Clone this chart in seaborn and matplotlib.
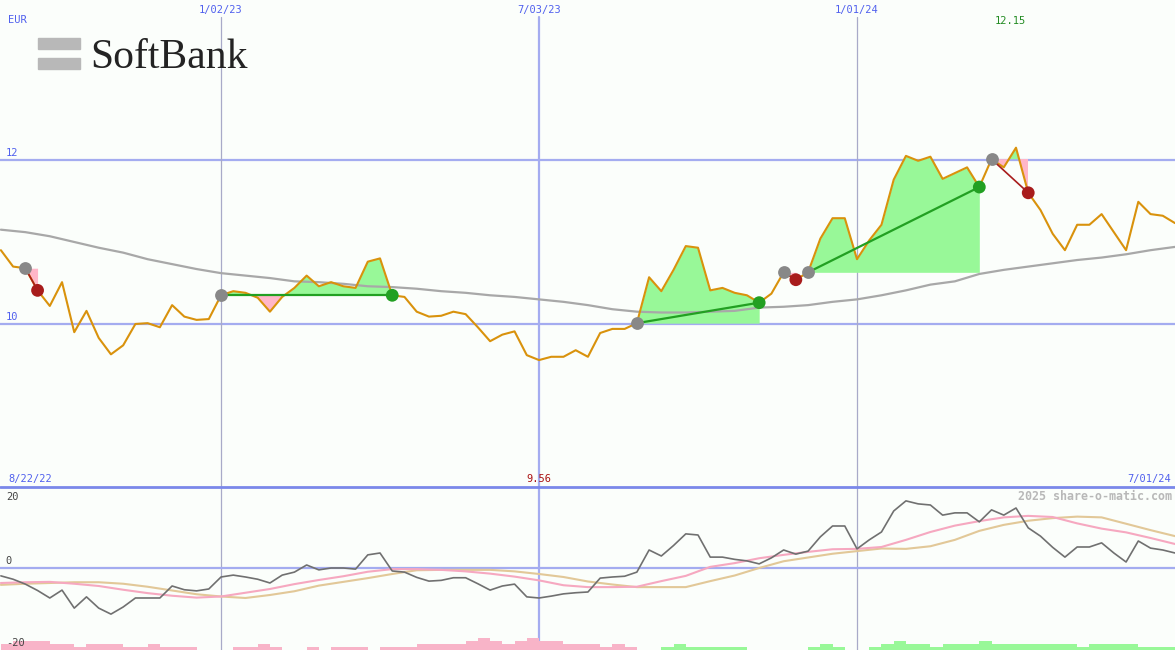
import numpy as np
import pandas as pd
import matplotlib.pyplot as plt
import matplotlib.patches as mpatches
from matplotlib.lines import Line2D
import seaborn as sns

sns.set_style("white")
plt.rcParams['font.family'] = ['DejaVu Sans Mono', 'DejaVu Sans']

# ---------------------------------------------------------
# data (weekly closes in EUR)
# ---------------------------------------------------------
weeks = pd.date_range("2022-08-29", "2024-07-01", freq="W-MON")

price = [10.90, 10.70, 10.68, 10.41, 10.22, 10.51, 9.90, 10.16, 9.83, 9.63,
         9.74, 10.00, 10.01, 9.96, 10.23, 10.09, 10.05, 10.06, 10.35, 10.40,
         10.38, 10.32, 10.15, 10.33, 10.44, 10.59, 10.46, 10.51, 10.46, 10.44,
         10.76, 10.80, 10.35, 10.33, 10.15, 10.09, 10.10, 10.15, 10.12, 9.96,
         9.79, 9.87, 9.91, 9.62, 9.56, 9.60, 9.60, 9.68, 9.60, 9.89,
         9.94, 9.94, 10.01, 10.57, 10.40, 10.66, 10.95, 10.93, 10.41, 10.44,
         10.38, 10.35, 10.26, 10.37, 10.63, 10.54, 10.63, 11.04, 11.29, 11.29,
         10.79, 11.02, 11.21, 11.76, 12.05, 11.99, 12.04, 11.77, 11.84, 11.91,
         11.67, 12.01, 11.91, 12.15, 11.60, 11.39, 11.10, 10.90, 11.21, 11.21,
         11.34, 11.12, 10.90, 11.49, 11.34, 11.32, 11.23]

# long moving average, every second week
ma_long = [11.15, 11.12, 11.07, 11.00, 10.93, 10.87, 10.79, 10.73, 10.67, 10.62,
           10.59, 10.56, 10.52, 10.51, 10.49, 10.46, 10.45, 10.43, 10.40, 10.38,
           10.35, 10.33, 10.30, 10.27, 10.23, 10.18, 10.15, 10.14, 10.14, 10.15,
           10.16, 10.20, 10.21, 10.23, 10.27, 10.30, 10.35, 10.41, 10.48, 10.52,
           10.61, 10.66, 10.70, 10.74, 10.78, 10.81, 10.85, 10.90, 10.94]

# trades: entry week index / exit week index
entry_idx = [2, 18, 52, 64, 66, 81]
exit_idx = [3, 32, 62, 65, 80, 84]

# lower panel: momentum (weekly) and two smoothed lines (every second week)
momentum = [-2.1, -3.0, -4.3, -6.0, -8.0, -5.9, -10.7, -7.7, -10.7, -12.3,
            -10.4, -8.0, -8.0, -8.0, -4.8, -5.8, -6.1, -5.6, -2.4, -1.9,
            -2.4, -3.0, -4.0, -1.9, -1.1, 0.8, -0.5, 0.0, 0.0, -0.3,
            3.5, 4.0, -0.8, -1.1, -2.5, -3.5, -3.3, -2.6, -2.6, -4.2,
            -5.9, -4.8, -4.3, -7.7, -8.0, -7.5, -6.9, -6.6, -6.4, -2.7,
            -2.4, -2.2, -1.1, 4.8, 3.2, 6.0, 9.1, 8.8, 2.9, 2.9,
            2.3, 1.9, 1.1, 2.7, 4.8, 3.7, 4.5, 8.3, 11.2, 11.2,
            5.1, 7.5, 9.6, 15.2, 17.9, 17.1, 16.8, 14.1, 14.7, 14.7,
            12.3, 15.5, 14.1, 16.0, 10.7, 8.5, 5.5, 2.9, 5.6, 5.6,
            6.7, 4.0, 1.6, 7.2, 5.3, 4.8, 4.0]

signal_fast = [-4.0, -3.8, -3.7, -4.2, -4.8, -5.8, -6.7, -7.4, -7.9, -7.6,
               -6.6, -5.6, -4.3, -3.2, -2.2, -1.0, -0.3, -0.3, -0.5, -0.9,
               -1.5, -2.3, -3.3, -4.6, -5.1, -5.1, -5.0, -3.5, -2.1, 0.3,
               1.3, 2.6, 3.5, 4.3, 5.0, 5.1, 5.6, 7.5, 9.6, 11.3,
               12.5, 13.5, 13.9, 13.6, 11.9, 10.5, 9.5, 8.0, 6.4]

signal_slow = [-4.5, -4.2, -4.0, -3.8, -3.8, -4.2, -5.0, -6.0, -7.0, -7.6,
               -8.0, -7.2, -6.2, -4.7, -3.7, -2.7, -1.6, -0.6, -0.5, -0.5,
               -0.5, -0.9, -1.6, -2.4, -3.6, -4.4, -5.1, -5.1, -5.1, -3.5,
               -2.0, 0.0, 1.8, 2.8, 3.8, 4.5, 5.2, 5.1, 5.8, 7.5,
               9.9, 11.5, 12.6, 13.3, 13.7, 13.5, 11.8, 10.1, 8.5]

# strength bars at the bottom (negative = pink, positive = green)
bar_levels = [-2, -3, -3, -3, -2, -2, -1, -2, -2, -2, -1, -1, -2, -1, -1, -1,
              0, 0, 0, -1, -1, -2, -1, 0, 0, -1, 0, -1, -1, -1, 0, -1,
              -1, -1, -2, -2, -2, -2, -3, -4, -3, -2, -3, -4, -3, -3, -2, -2,
              -2, -1, -2, -1, 0, 0, 1, 2, 1, 1, 1, 1, 1, 0, 0, 0,
              0, 0, 1, 2, 1, 0, 0, 1, 2, 3, 2, 2, 1, 2, 2, 2,
              3, 2, 2, 2, 2, 2, 2, 2, 1, 2, 2, 2, 2, 1, 1, 1]

half_year_lines = ["2023-01-02", "2023-07-03", "2024-01-01"]
half_year_labels = ["1/02/23", "7/03/23", "1/01/24"]

# ---------------------------------------------------------
# colours
# ---------------------------------------------------------
bg = '#fbfefb'
grid_blue = '#a4acf0'
thin_grid = '#a8aac8'
label_blue = '#5060ee'
price_col = '#d9920c'
ma_col = '#a8a8a8'
fill_green = '#98f898'
fill_pink = '#ffb6c8'
win_col = '#22a022'
loss_col = '#a81c1c'

price = np.array(price)
ma_weeks = weeks[::2]

fig = plt.figure(figsize=(11.75, 6.5), dpi=100, facecolor=bg)
ax = fig.add_axes([0, 163 / 650, 1, 487 / 650])
ax2 = fig.add_axes([0, 0, 1, 163 / 650])
for a in (ax, ax2):
    a.set_axis_off()
    a.set_xlim(weeks[0] - pd.Timedelta(hours=12), weeks[-1])

ax.set_ylim(8.012, 13.951)
ax2.set_ylim(-21.87, 21.6)

# ---------------------------------------------------------
# main panel
# ---------------------------------------------------------
for lvl in (10, 12):
    ax.axhline(lvl, color=grid_blue, lw=1.6, zorder=0.5)
    ax.annotate(str(lvl), xy=(0.005, lvl), xycoords=('axes fraction', 'data'),
                xytext=(0, 1.5), textcoords='offset points', va='bottom',
                fontsize=7.5, color=label_blue)

for d, lab in zip(half_year_lines, half_year_labels):
    thick = d.endswith("07-03")
    col = grid_blue if thick else thin_grid
    ax.axvline(pd.Timestamp(d), ymax=0.965, color=col, lw=1.6 if thick else 0.9, zorder=0.5)
    ax2.axvline(pd.Timestamp(d), color=col, lw=1.6 if thick else 0.9, zorder=0.5)
    ax.annotate(lab, xy=(pd.Timestamp(d), 0.98), xycoords=('data', 'axes fraction'),
                ha='center', va='center', fontsize=7.5, color=label_blue)

# trade areas
for a, b in zip(entry_idx, exit_idx):
    seg_x = weeks[a:b + 1]
    seg_y = price[a:b + 1]
    p0 = price[a]
    ax.fill_between(seg_x, p0, seg_y, where=seg_y >= p0, interpolate=True,
                    color=fill_green, lw=0, zorder=1)
    ax.fill_between(seg_x, p0, seg_y, where=seg_y <= p0, interpolate=True,
                    color=fill_pink, lw=0, zorder=1)

sns.lineplot(x=ma_weeks, y=ma_long, ax=ax, color=ma_col, linewidth=1.6, zorder=2)
sns.lineplot(x=weeks, y=price, ax=ax, color=price_col, linewidth=1.5, zorder=3)

for a, b in zip(entry_idx, exit_idx):
    win = price[b] >= price[a]
    ax.plot([weeks[a], weeks[b]], [price[a], price[b]],
            color=win_col if win else loss_col, lw=1.6 if win else 1.2, zorder=4)

exit_cols = [win_col if price[b] >= price[a] else loss_col
             for a, b in zip(entry_idx, exit_idx)]
sns.scatterplot(x=weeks[entry_idx], y=price[entry_idx], ax=ax, color='#888888',
                s=85, linewidth=0, zorder=5)
ax.scatter(weeks[exit_idx], price[exit_idx], c=exit_cols, s=85, linewidth=0, zorder=6)

# labels
imax = int(np.argmax(price))
imin = int(np.argmin(price))
ax.annotate(f"{price[imax]:.2f}", xy=(weeks[imax], 0.957), xycoords=('data', 'axes fraction'),
            xytext=(-4, 0), textcoords='offset points',
            ha='center', va='center', fontsize=7.5, color='#228b22')
ax.annotate(f"{price[imin]:.2f}", xy=(weeks[imin], 0.0164), xycoords=('data', 'axes fraction'),
            ha='center', va='center', fontsize=7.5, color='#aa1111')
fig.text(8 / 1175, 1 - 20 / 650, "EUR", ha='left', va='center', fontsize=7.5, color=label_blue)
fig.text(8 / 1175, 1 - 479 / 650, "8/22/22", ha='left', va='center', fontsize=7.5, color=label_blue)
fig.text(1171 / 1175, 1 - 479 / 650, "7/01/24", ha='right', va='center', fontsize=7.5, color=label_blue)

# logo
fig.add_artist(mpatches.Rectangle((38 / 1175, 1 - 49 / 650), 42 / 1175, 11 / 650,
                                  transform=fig.transFigure, color='#b8b8b8'))
fig.add_artist(mpatches.Rectangle((38 / 1175, 1 - 69 / 650), 42 / 1175, 11 / 650,
                                  transform=fig.transFigure, color='#b8b8b8'))
fig.text(90 / 1175, 1 - 68 / 650, "SoftBank", fontsize=30, family='Liberation Serif',
         color='#232323', va='baseline', ha='left')

# ---------------------------------------------------------
# lower panel
# ---------------------------------------------------------
fig.add_artist(Line2D([0, 1], [163 / 650, 163 / 650], transform=fig.transFigure,
                      color='#7a88ea', lw=2))
ax2.axhline(0, color=grid_blue, lw=1.6, zorder=0.5)

bar_h = [abs(v) * 0.8 for v in bar_levels]
bar_c = [fill_green if v > 0 else '#f8b4c8' for v in bar_levels]
ax2.bar(weeks[:len(bar_levels)], bar_h, width=7, align='edge', bottom=-21.87,
        color=bar_c, linewidth=0, zorder=1)

sns.lineplot(x=ma_weeks, y=signal_slow, ax=ax2, color='#e2c898', linewidth=1.5, zorder=2)
sns.lineplot(x=ma_weeks, y=signal_fast, ax=ax2, color='#f6a8c0', linewidth=1.5, zorder=2)
sns.lineplot(x=weeks, y=momentum, ax=ax2, color='#707070', linewidth=1.2, zorder=3)

for val, va, dy in ((20, 'center', -3), (0, 'bottom', 1.5), (-20, 'center', 0)):
    ax2.annotate(str(val), xy=(0.005, val), xycoords=('axes fraction', 'data'),
                 xytext=(0, dy), textcoords='offset points',
                 va=va, ha='left', fontsize=7.5, color='#444444', zorder=7)

fig.text(1172 / 1175, 1 - 496 / 650, "2025 share-o-matic.com", ha='right', va='center',
         fontsize=8.4, weight='bold', color='#b8b8b8')

fig.savefig("out.png", dpi=100, facecolor=fig.get_facecolor())
